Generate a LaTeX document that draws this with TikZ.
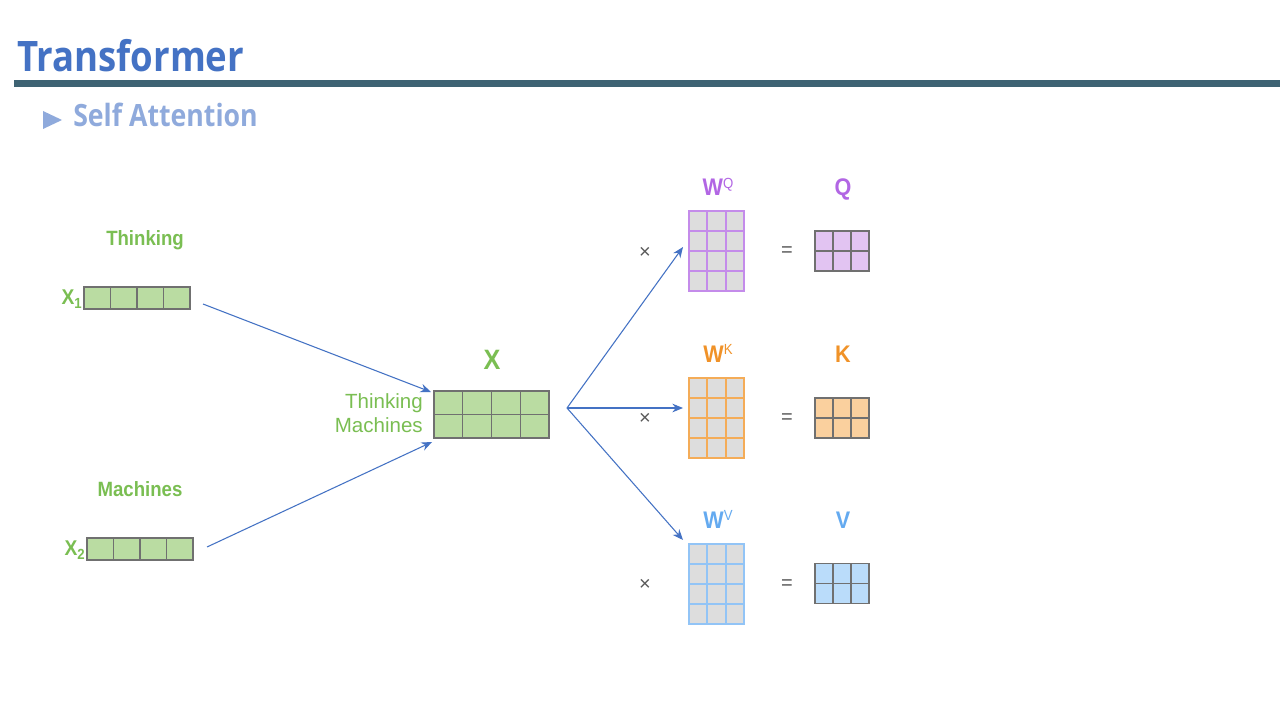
\documentclass[tikz,border=0pt]{standalone}
\usepackage{fontspec}
\setmainfont{Liberation Sans}
\newfontfamily\titlefont[FakeStretch=0.87]{Open Sans}
\newfontfamily\hvb[FakeStretch=0.9]{Liberation Sans}
\usetikzlibrary{arrows.meta,calc}
\definecolor{titleblue}{RGB}{68,114,196}
\definecolor{barcol}{RGB}{62,99,115}
\definecolor{subblue}{RGB}{143,170,220}
\definecolor{grn}{RGB}{122,190,82}
\definecolor{grnfill}{RGB}{186,220,162}
\definecolor{cellgray}{RGB}{112,112,112}
\definecolor{arrblue}{RGB}{68,114,196}
\definecolor{qtext}{RGB}{178,102,228}
\definecolor{qline}{RGB}{196,140,234}
\definecolor{qfill}{RGB}{226,196,242}
\definecolor{ktext}{RGB}{240,146,40}
\definecolor{kline}{RGB}{244,172,88}
\definecolor{kfill}{RGB}{250,208,158}
\definecolor{vtext}{RGB}{100,170,240}
\definecolor{vline}{RGB}{146,196,246}
\definecolor{vfill}{RGB}{186,220,250}
\definecolor{wfill}{RGB}{221,221,221}
\definecolor{opgray}{RGB}{90,90,90}
\newdimen\px \px=0.75pt
\newcommand{\mgrid}[4]{%
  \pgfmathtruncatemacro{\gc}{#2-1}%
  \pgfmathtruncatemacro{\gr}{#3-1}%
  \ifnum\gc>0
  \foreach \i in {1,...,\gc}{\draw[#4] ($(#1.north west)!\i/#2!(#1.north east)$) -- ($(#1.south west)!\i/#2!(#1.south east)$);}%
  \fi
  \ifnum\gr>0
  \foreach \j in {1,...,\gr}{\draw[#4] ($(#1.north west)!\j/#3!(#1.south west)$) -- ($(#1.north east)!\j/#3!(#1.south east)$);}%
  \fi
}
\newcommand{\supl}[1]{\raisebox{5.5pt}{\hvb\mdseries\fontsize{11}{11}\selectfont #1}}
\tikzset{
  mat/.style={draw=cellgray, line width=0.9pt, inner sep=0pt, outer sep=0pt},
  wmat/.style={draw=#1, fill=wfill, line width=1.5pt, inner sep=0pt, outer sep=0pt, minimum width=55\px, minimum height=80\px},
  rmat/.style={mat, fill=#1, minimum width=54\px, minimum height=40\px},
  vecbox/.style={mat, fill=grnfill, minimum width=106\px, minimum height=22\px},
  arr/.style={draw=arrblue, line width=0.8pt, -{Stealth[length=8pt,width=6.5pt]}},
  grnlab/.style={text=grn, inner sep=0pt, font=\hvb\bfseries\fontsize{15.5}{15.5}\selectfont},
  xsub/.style={text=grn, inner sep=0pt, anchor=east, font=\hvb\bfseries\fontsize{16}{16}\selectfont},
  wlab/.style={text=#1, inner sep=0pt, anchor=base, font=\hvb\bfseries\fontsize{18}{18}\selectfont},
  rlab/.style={text=#1, inner sep=0pt, anchor=base, font=\hvb\bfseries\fontsize{18}{18}\selectfont},
  op/.style={text=opgray, inner sep=0pt, font=\fontsize{15}{15}\selectfont},
}
\begin{document}
\begin{tikzpicture}[x=0.75pt, y=-0.75pt]
\fill[white] (0,0) rectangle (1280,720);
\useasboundingbox (0,0) rectangle (1280,720);
% header
\node[anchor=base west, inner sep=0pt, text=titleblue, font=\titlefont\bfseries\fontsize{31.5}{31.5}\selectfont] (title) at (17,72) {Transformer};
\fill[barcol] (14,80) rectangle (1280,87);
\fill[subblue] (43,111) -- (62,120) -- (43,129) -- cycle;
\node[anchor=base west, inner sep=0pt, text=subblue, font=\titlefont\bfseries\fontsize{23}{23}\selectfont] (sub) at (73,127) {Self Attention};
% inputs
\node[grnlab, anchor=base] (think) at (145,245) {Thinking};
\node[vecbox] (x1) at (137,298) {};
\mgrid{x1}{4}{1}{cellgray, line width=0.9pt}
\node[xsub] (x1lab) at (82,299) {X\raisebox{-2.5pt}{\fontsize{11}{11}\selectfont 1}};
\node[grnlab, anchor=base] (mach) at (140,496) {Machines};
\node[vecbox] (x2) at (140,549) {};
\mgrid{x2}{4}{1}{cellgray, line width=0.9pt}
\node[xsub] (x2lab) at (85,550) {X\raisebox{-2.5pt}{\fontsize{11}{11}\selectfont 2}};
% X matrix
\node[grnlab, anchor=base, font=\hvb\bfseries\fontsize{21}{21}\selectfont] (xlab) at (492,369) {X};
\node[mat, fill=grnfill, minimum width=115\px, minimum height=47\px] (xm) at (491.5,414.5) {};
\mgrid{xm}{4}{2}{cellgray, line width=0.9pt}
\node[text=grn, inner sep=0pt, anchor=base east, font=\fontsize{15.4}{15.4}\selectfont] (tw) at (423,408) {Thinking};
\node[text=grn, inner sep=0pt, anchor=base east, font=\fontsize{15.4}{15.4}\selectfont] (mw) at (423,432) {Machines};
\coordinate (split) at ($(xm.east)+(18,-6.5)$);
% weight matrices
\node[wlab=qtext] (wqlab) at (718,196) {W\supl{Q}};
\node[wmat=qline] (wq) at (716.5,251) {};
\mgrid{wq}{3}{4}{qline, line width=1.5pt}
\node[rlab=qtext] (qlab) at (843,196) {Q};
\node[rmat=qfill] (q) at (842,251) {};
\mgrid{q}{3}{2}{cellgray, line width=0.9pt}
\node[op] (tq) at (645,253) {×};
\node[op] (eq1) at (787,252) {=};

\node[wlab=ktext] (wklab) at (718,362) {W\supl{K}};
\node[wmat=kline] (wk) at (716.5,417.5) {};
\mgrid{wk}{3}{4}{kline, line width=1.5pt}
\node[rlab=ktext] (klab) at (843,362) {K};
\node[rmat=kfill] (k) at (842,418) {};
\mgrid{k}{3}{2}{cellgray, line width=0.9pt}
\node[op] (tk) at (645,419) {×};
\node[op] (eq2) at (787,419) {=};

\node[wlab=vtext] (wvlab) at (718,528) {W\supl{V}};
\node[wmat=vline] (wv) at (716.5,583.5) {};
\mgrid{wv}{3}{4}{vline, line width=1.5pt}
\node[rlab=vtext] (vlab) at (843,528) {V};
\node[rmat=vfill] (v) at (842,583.5) {};
\mgrid{v}{3}{2}{cellgray, line width=0.9pt}
\node[op] (tv) at (645,585) {×};
\node[op] (eq3) at (787,585) {=};
% arrows
\draw[arr] ($(x1.east)+(13,6)$) -- ($(xm.north west)+(-3,1)$);
\draw[arr] ($(x2.east)+(14,-2)$) -- ($(xm.south west)+(-2,4)$);
\draw[arr] (split) -- ($(wq.west)+(-6,-4)$);
\draw[arr] (split) -- ($(wk.west)+(-6,-9.5)$);
\draw[arr] (split) -- ($(wv.north west)+(-6,-3.5)$);
\end{tikzpicture}
\end{document}
